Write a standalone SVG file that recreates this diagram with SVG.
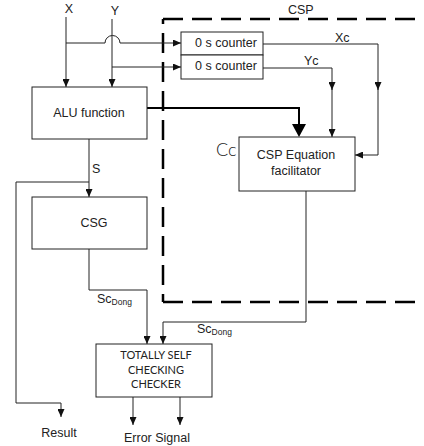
<svg xmlns="http://www.w3.org/2000/svg" width="424" height="446" viewBox="0 0 424 446">
<style>
.box{fill:#fff;stroke:#222;stroke-width:1}
.ln{fill:none;stroke:#222;stroke-width:1}
.t{font-family:"Liberation Sans",Arial,sans-serif;font-size:12.5px;fill:#222}
.dash{fill:none;stroke:#000;stroke-width:2.5;stroke-dasharray:20,9}
.g{font-family:"Lato","Liberation Sans",sans-serif;font-size:11px;fill:#222}
</style>
<defs>
<marker id="ar" markerWidth="8" markerHeight="7" refX="8" refY="3.5" orient="auto" markerUnits="userSpaceOnUse">
<path d="M0,0 L8,3.5 L0,7 z" fill="#111"/>
</marker>
</defs>
<g id="csp-boundary">
<path class="dash" d="M163,19 V302" stroke-dashoffset="15"/>
<path class="dash" d="M163,19 H424"/>
<path class="dash" d="M163,302 H424"/>
<text class="t" x="288" y="14">CSP</text>
</g>
<g id="connectors">
<path class="ln" d="M66,17 V87" marker-end="url(#ar)"/>
<path class="ln" d="M112,19 V87" marker-end="url(#ar)"/>
<path class="ln" d="M66,43 H105 A7.5,7.5 0 0 1 120,43 H181" marker-end="url(#ar)"/>
<path class="ln" d="M112,67 H181" marker-end="url(#ar)"/>
<path class="ln" d="M263,44 H378 V90" marker-end="url(#ar)"/>
<path class="ln" d="M378,88 V155 H355" marker-end="url(#ar)"/>
<path class="ln" d="M263,68 H332 V90" marker-end="url(#ar)"/>
<path class="ln" d="M332,88 V137" marker-end="url(#ar)"/>
<path fill="none" stroke="#000" stroke-width="2" d="M147,108 H299 V125"/>
<path d="M292,124 L306,124 L299,137 z" fill="#000"/>
<path class="ln" d="M89,139 V197" marker-end="url(#ar)"/>
<path class="ln" d="M89,182 H16 V403 H61 V417" marker-end="url(#ar)"/>
<path class="ln" d="M89,249 V290 H147 V344" marker-end="url(#ar)"/>
<path class="ln" d="M306,191 V322 H163 V344" marker-end="url(#ar)"/>
<path class="ln" d="M133,397 V425" marker-end="url(#ar)"/>
<path class="ln" d="M180,397 V425" marker-end="url(#ar)"/>
<text class="t" x="335" y="42" font-size="12">Xc</text>
<text class="t" x="304" y="65" font-size="12">Yc</text>
<text class="t" x="92" y="173" font-size="12">S</text>
<text class="t" x="97" y="303" font-size="12">Sc<tspan font-size="8.5" dy="2">Dong</tspan></text>
<text class="t" x="197" y="333" font-size="12">Sc<tspan font-size="8.5" dy="2">Dong</tspan></text>
</g>
<g id="labels">
<text class="t" x="69" y="13" text-anchor="middle">X</text>
<text class="t" x="115" y="15" text-anchor="middle">Y</text>
<text class="t" x="59" y="437" text-anchor="middle" font-size="12">Result</text>
<text class="t" x="157" y="442" text-anchor="middle" font-size="12">Error Signal</text>
</g>
<g id="alu">
<rect class="box" x="32" y="87" width="115" height="52"/>
<text class="t" x="89" y="117" text-anchor="middle">ALU function</text>
</g>
<g id="counter-x">
<rect class="box" x="181" y="32" width="82" height="23"/>
<text class="t" x="226" y="47" text-anchor="middle">0 s counter</text>
</g>
<g id="counter-y">
<rect class="box" x="181" y="55" width="82" height="24"/>
<text class="t" x="226" y="70" text-anchor="middle">0 s counter</text>
</g>
<g id="csp-eq">
<rect class="box" x="239" y="137" width="116" height="54"/>
<text class="t" x="296" y="159" text-anchor="middle">CSP Equation</text>
<text class="t" x="296" y="175" text-anchor="middle">facilitator</text>
<text x="216" y="156" font-family="Lato, 'Liberation Sans', sans-serif" font-weight="300" font-size="18" fill="#222">Cc</text>
</g>
<g id="csg">
<rect class="box" x="32" y="197" width="115" height="52"/>
<text class="t" x="94" y="227" text-anchor="middle">CSG</text>
</g>
<g id="tscc">
<rect class="box" x="96" y="344" width="116" height="53"/>
<text class="g" x="156" y="359" text-anchor="middle">TOTALLY SELF</text>
<text class="g" x="156" y="374" text-anchor="middle">CHECKING</text>
<text class="g" x="156" y="388" text-anchor="middle">CHECKER</text>
</g>
</svg>
